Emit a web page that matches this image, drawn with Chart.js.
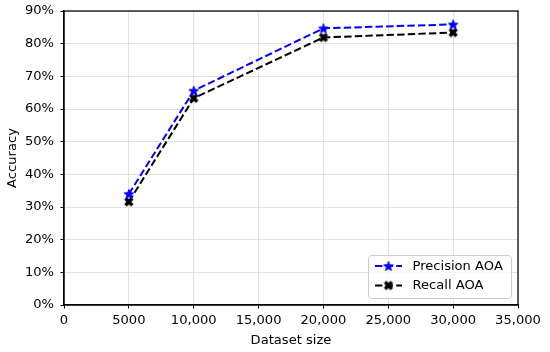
<!DOCTYPE html>
<html><head><meta charset="utf-8">
<script src="https://cdn.jsdelivr.net/npm/chart.js@4/dist/chart.umd.min.js"></script>
<style>html,body{margin:0;padding:0;background:#fff}canvas{display:block}</style>
</head><body>
<canvas id="c" width="550" height="352"></canvas>
<script>
const datasetSizes = [5000, 10000, 20000, 30000];
const precisionAOA = [34.0, 65.6, 84.7, 85.9];
const recallAOA = [31.6, 63.3, 81.9, 83.4];
const xTickLabels = ['0', '5000', '10,000', '15,000', '20,000', '25,000', '30,000', '35,000'];
const yTickLabels = ['0%', '10%', '20%', '30%', '40%', '50%', '60%', '70%', '80%', '90%'];
const seriesNames = ['Precision AOA', 'Recall AOA'];

const FONT = '"DejaVu Sans", sans-serif';
const FS = 13.1;

function starMarker(color) {
  const s = 14, c = document.createElement('canvas');
  c.width = s; c.height = s;
  const g = c.getContext('2d');
  const R = 5.0, r = 2.1, cx = s / 2, cy = s / 2 + 0.5;
  g.beginPath();
  for (let i = 0; i < 10; i++) {
    const a = -Math.PI / 2 + i * Math.PI / 5;
    const rad = i % 2 ? r : R;
    const x = cx + rad * Math.cos(a), y = cy + rad * Math.sin(a);
    i ? g.lineTo(x, y) : g.moveTo(x, y);
  }
  g.closePath();
  g.fillStyle = color; g.fill();
  g.strokeStyle = color; g.lineWidth = 1; g.stroke();
  return c;
}
function xMarker(color) {
  const s = 12, c = document.createElement('canvas');
  c.width = s; c.height = s;
  const g = c.getContext('2d');
  const cx = s / 2, cy = s / 2, d = 3.4;
  g.strokeStyle = color; g.lineWidth = 3.6; g.lineCap = 'butt';
  g.beginPath();
  g.moveTo(cx - d, cy - d); g.lineTo(cx + d, cy + d);
  g.moveTo(cx + d, cy - d); g.lineTo(cx - d, cy + d);
  g.stroke();
  return c;
}
const markers = [starMarker('#0000ff'), xMarker('#000000')];
const colors = ['#0000ff', '#000000'];

const frameLegend = {
  id: 'frameLegend',
  afterDatasetsDraw(chart) {
    const ctx = chart.ctx, a = chart.chartArea;
    ctx.save();
    ctx.strokeStyle = '#000'; ctx.lineWidth = 1.25;
    ctx.strokeRect(a.left, a.top, a.right - a.left, a.bottom - a.top);
    // legend
    const x0 = 368, y0 = 255, w = 143, h = 43;
    ctx.beginPath();
    if (ctx.roundRect) ctx.roundRect(x0 + 0.5, y0 + 0.5, w, h, 3); else ctx.rect(x0 + 0.5, y0 + 0.5, w, h);
    ctx.fillStyle = 'rgba(255,255,255,0.8)'; ctx.fill();
    ctx.strokeStyle = '#cccccc'; ctx.lineWidth = 1; ctx.stroke();
    chart.data.datasets.forEach((ds, i) => {
      const yy = y0 + 11 + i * 19.5;
      ctx.strokeStyle = colors[i]; ctx.lineWidth = 2; ctx.setLineDash([7.4, 3.2]);
      ctx.beginPath(); ctx.moveTo(375, yy); ctx.lineTo(402, yy); ctx.stroke();
      ctx.setLineDash([]);
      const m = markers[i];
      ctx.drawImage(m, 388.5 - m.width / 2, yy - m.height / 2);
      ctx.fillStyle = '#000'; ctx.font = FS + 'px ' + FONT; ctx.textBaseline = 'middle';
      ctx.fillText(ds.label, 412.5, yy + 0.5);
    });
    ctx.restore();
  }
};

new Chart(document.getElementById('c'), {
  type: 'line',
  data: {
    datasets: [
      { label: seriesNames[0], data: datasetSizes.map((x, i) => ({ x, y: precisionAOA[i] })),
        borderColor: colors[0], backgroundColor: colors[0], borderWidth: 2, borderDash: [7.4, 3.2],
        pointStyle: markers[0], pointRadius: 5, clip: false },
      { label: seriesNames[1], data: datasetSizes.map((x, i) => ({ x, y: recallAOA[i] })),
        borderColor: colors[1], backgroundColor: colors[1], borderWidth: 2, borderDash: [7.4, 3.2],
        pointStyle: markers[1], pointRadius: 5, clip: false }
    ]
  },
  options: {
    responsive: false, animation: false,
    layout: { padding: { left: 5, top: 11, right: 32, bottom: 4 } },
    plugins: { legend: { display: false }, tooltip: { enabled: false } },
    scales: {
      x: {
        type: 'linear', min: 0, max: 35000,
        afterBuildTicks(s) { s.ticks = xTickLabels.map((_, i) => ({ value: i * 5000 })); },
        afterFit(s) { s.height = 43; s.paddingLeft = 0; s.paddingRight = 0; },
        ticks: { callback: (v, i) => xTickLabels[i], color: '#000', font: { family: FONT, size: FS }, padding: 4.5, maxRotation: 0, autoSkip: false },
        grid: { color: '#d9d9d9', lineWidth: 0.8, tickColor: '#000', tickLength: 3.5, tickWidth: 1 },
        border: { color: '#000', width: 1.25 },
        title: { display: true, text: 'Dataset size', color: '#000', font: { family: FONT, size: FS }, padding: { top: 2, bottom: 0 } }
      },
      y: {
        type: 'linear', min: 0, max: 90,
        afterBuildTicks(s) { s.ticks = yTickLabels.map((_, i) => ({ value: i * 10 })); },
        afterFit(s) { s.width = 59; s.paddingTop = 0; s.paddingBottom = 0; },
        ticks: { callback: (v, i) => yTickLabels[i], color: '#000', font: { family: FONT, size: FS }, padding: 6.5, autoSkip: false },
        grid: { color: '#d9d9d9', lineWidth: 0.8, tickColor: '#000', tickLength: 3.5, tickWidth: 1 },
        border: { color: '#000', width: 1.25 },
        title: { display: true, text: 'Accuracy', color: '#000', font: { family: FONT, size: FS }, padding: { top: 0, bottom: 0 } }
      }
    }
  },
  plugins: [frameLegend]
});
</script>
</body></html>
